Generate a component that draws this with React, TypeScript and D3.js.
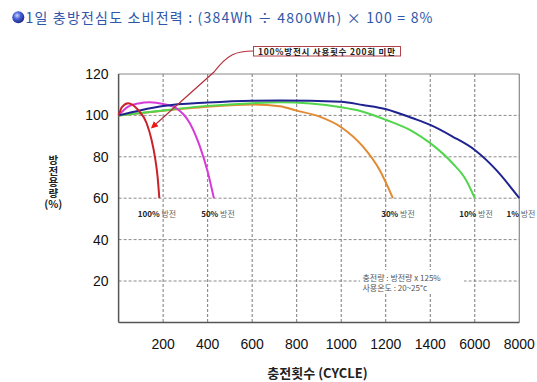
import React from "react";
import * as d3 from "d3";

const xTickValues = [0, 200, 400, 600, 800, 1000, 1200, 1400, 6000, 8000];
const xTickLabels = ["200", "400", "600", "800", "1000", "1200", "1400", "6000", "8000"];
const yTicks = [20, 40, 60, 80, 100, 120];

const red100Cycles = [0, 15, 43, 88, 126, 148, 163, 175, 183];
const red100Values = [100, 104, 105.9, 102.6, 96.2, 88.2, 80.1, 70.5, 60];

const mag50Cycles = [0, 43, 90, 140, 200, 260, 320, 365, 402, 428];
const mag50Values = [100, 104.2, 105.8, 106.3, 105.5, 103.4, 96.2, 85, 72.1, 60];

const orange30Cycles = [0, 200, 400, 600, 724, 800, 903, 1000, 1097, 1172, 1232];
const orange30Values = [100, 102.3, 104.2, 105.3, 104.4, 102.3, 99.4, 94.3, 85, 73.7, 60];

const green10Cycles = [0, 200, 400, 600, 724, 1000, 1097, 1202, 1322, 1400, 3700, 5082, 6000];
const green10Values = [100, 102.4, 104.6, 105.9, 106.3, 103.9, 101.8, 97.8, 92.2, 86.6, 76.9, 68.9, 60];

const blue1Cycles = [0, 100, 200, 400, 600, 724, 1000, 1097, 1202, 1322, 1400, 3700, 6000, 6960, 8000];
const blue1Values = [100, 102.5, 104.5, 106.2, 107.1, 107.2, 106.6, 105, 103, 98.6, 95.4, 89.8, 83.3, 73.7, 60];

const seriesNames = ["30%", "10%", "50%", "1%", "100%"];
const seriesColors = ["#e28a32", "#4fd64a", "#d83ad8", "#1f2390", "#c8232b"];

const yTitleWord = "방전용량";
const yTitleUnit = "(%)";

const W = 537;
const H = 382;
const left = 118.6;
const right = 519.3;
const top = 74;
const bottom = 322.4;

export default function App() {
  const xPositions = xTickValues.map((_, i) => left + (i * (right - left)) / 9);
  const x = d3.scaleLinear().domain(xTickValues).range(xPositions);
  const y = d3.scaleLinear().domain([0, 120]).range([bottom, top]);

  const series = [
    { c: orange30Cycles, v: orange30Values },
    { c: green10Cycles, v: green10Values },
    { c: mag50Cycles, v: mag50Values },
    { c: blue1Cycles, v: blue1Values },
    { c: red100Cycles, v: red100Values },
  ];

  const line = d3
    .line<[number, number]>()
    .x((d) => x(d[0]))
    .y((d) => y(d[1]))
    .curve(d3.curveMonotoneX);

  const endLabels = [
    { cx: 157, text: "100%" },
    { cx: 218, text: "50%" },
    { cx: 398, text: "30%" },
    { cx: 476, text: "10%" },
    { cx: 521, text: "1%" },
  ];

  const tickFont = "'Liberation Sans', Arial, sans-serif";
  const krFont = "'Noto Sans CJK KR', 'Noto Sans', sans-serif";

  return (
    <svg
      width={W}
      height={H}
      style={{ position: "absolute", left: 0, top: 0, background: "#fff" }}
    >
      <defs>
        <radialGradient id="ball" cx="40%" cy="35%" r="65%">
          <stop offset="0%" stopColor="#c9d6ff" />
          <stop offset="45%" stopColor="#4a63d8" />
          <stop offset="100%" stopColor="#1a2a8a" />
        </radialGradient>
        <marker
          id="arrow"
          viewBox="0 0 10 10"
          refX="8"
          refY="5"
          markerWidth="7"
          markerHeight="7"
          markerUnits="userSpaceOnUse"
          orient="auto"
        >
          <path d="M0,0 L10,5 L0,10 z" fill="#ee1515" />
        </marker>
      </defs>
      <rect x={0} y={0} width={W} height={H} fill="#fff" />

      {/* title */}
      <circle cx={18.3} cy={17.3} r={6} fill="url(#ball)" />
      <text
        x={25.5}
        y={22.5}
        fontFamily={krFont}
        fontSize={14}
        fill="#2f56a8"
        textLength={407}
      >
        1일 충방전심도 소비전력 : (384Wh ÷ 4800Wh) × 100 = 8%
      </text>

      {/* gridlines */}
      {yTicks
        .filter((t) => t < 120)
        .map((t) => (
          <line
            key={"gy" + t}
            x1={left}
            x2={right}
            y1={y(t)}
            y2={y(t)}
            stroke="#8a8a8a"
            strokeWidth={1}
            strokeDasharray="3,2"
          />
        ))}
      {xTickValues.slice(1, -1).map((t) => (
        <line
          key={"gx" + t}
          x1={x(t)}
          x2={x(t)}
          y1={top}
          y2={bottom}
          stroke="#7a7a7a"
          strokeWidth={1}
          strokeDasharray="3,2"
        />
      ))}

      {/* note */}
      <rect x={360} y={270} width={104} height={24} fill="#fff" />
      <text x={362.5} y={280.5} fontFamily={krFont} fontSize={8} fill="#555">
        충전량 : 방전량 x 125%
      </text>
      <text x={362.5} y={291} fontFamily={krFont} fontSize={8} fill="#555">
        사용온도 : 20~25°c
      </text>

      {/* frame */}
      <line x1={left} x2={right} y1={top} y2={top} stroke="#888" strokeWidth={1.2} />
      <line x1={right} x2={right} y1={top} y2={bottom} stroke="#888" strokeWidth={1.2} />
      <line x1={left} x2={left} y1={top} y2={bottom} stroke="#555" strokeWidth={1.5} />
      <line x1={left} x2={right} y1={bottom} y2={bottom} stroke="#555" strokeWidth={1.5} />

      {/* series */}
      {series.map((s, i) => (
        <path
          key={seriesNames[i]}
          d={line(s.c.map((c, j) => [c, s.v[j]] as [number, number])) || ""}
          fill="none"
          stroke={seriesColors[i]}
          strokeWidth={2}
        />
      ))}

      {/* end labels */}
      {endLabels.map((l) => (
        <text
          key={l.text}
          x={l.cx}
          y={216.5}
          textAnchor="middle"
          fontFamily={krFont}
          fontSize={8}
        >
          <tspan fill="#222" fontWeight="bold">{l.text}</tspan>
          <tspan fill="#666"> 방전</tspan>
        </text>
      ))}

      {/* annotation */}
      <path
        d="M253.5,51 C236,51 228,54 214,72 L152,127.5"
        fill="none"
        stroke="#b3303c"
        strokeWidth={1.2}
        markerEnd="url(#arrow)"
      />
      <rect x={253.5} y={46.5} width={147} height={9.5} fill="#fff" stroke="#b3404a" strokeWidth={1} />
      <text
        x={258}
        y={54.5}
        fontFamily={krFont}
        fontSize={8.5}
        fontWeight="bold"
        fill="#222"
        textLength={137}
      >
        100%방전시 사용횟수 200회 미만
      </text>

      {/* y tick labels */}
      {yTicks.map((t) => (
        <text
          key={"yl" + t}
          x={108.5}
          y={y(t)}
          dy="0.36em"
          textAnchor="end"
          fontFamily={tickFont}
          fontSize={14}
          fill="#111"
        >
          {t}
        </text>
      ))}

      {/* x tick labels */}
      {xTickValues.slice(1).map((t, i) => (
        <text
          key={"xl" + t}
          x={x(t)}
          y={344}
          dy="0.36em"
          textAnchor="middle"
          fontFamily={tickFont}
          fontSize={14}
          fill="#111"
        >
          {xTickLabels[i]}
        </text>
      ))}

      {/* axis titles */}
      <text
        x={53.3}
        y={154.5}
        fontFamily={krFont}
        fontSize={10.5}
        fontWeight="bold"
        fill="#222"
        letterSpacing={0.6}
        style={{ writingMode: "vertical-rl", textOrientation: "upright" } as any}
      >
        {yTitleWord}
      </text>
      <text
        x={53.3}
        y={204.5}
        dy="0.36em"
        textAnchor="middle"
        fontFamily={krFont}
        fontSize={10.5}
        fontWeight="bold"
        fill="#222"
      >
        {yTitleUnit}
      </text>
      <text
        x={317.5}
        y={373.3}
        dy="0.36em"
        textAnchor="middle"
        fontFamily={krFont}
        fontSize={13}
        fontWeight="bold"
        fill="#222"
      >
        충전횟수 (CYCLE)
      </text>
    </svg>
  );
}
